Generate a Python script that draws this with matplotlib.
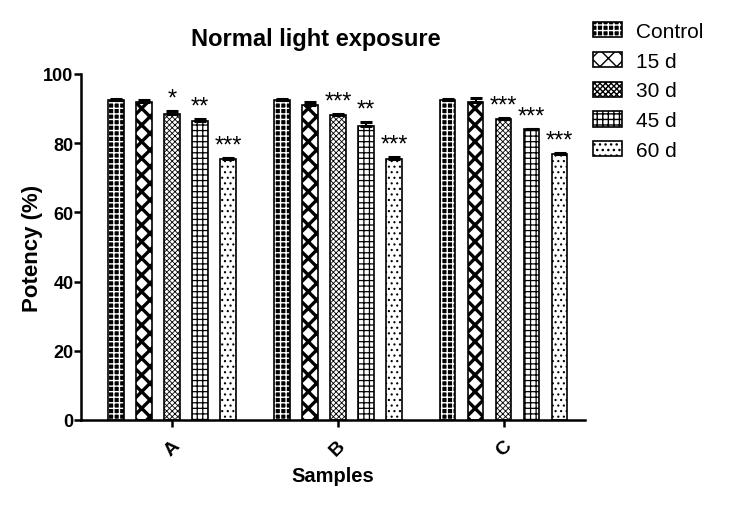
import numpy as np
import matplotlib.pyplot as plt
from matplotlib.patches import Patch
from matplotlib.legend_handler import HandlerTuple

plt.rcParams['font.family'] = ['Liberation Sans', 'DejaVu Sans']

# datos
samples = ["A", "B", "C"]
groups = ["Control", "15 d", "30 d", "45 d", "60 d"]
potency = {
    "Control": [92.5, 92.5, 92.5],
    "15 d": [91.8, 91.0, 92.0],
    "30 d": [88.5, 88.2, 87.0],
    "45 d": [86.3, 85.0, 84.0],
    "60 d": [75.5, 75.5, 76.8],
}
sem = {
    "Control": [0.3, 0.3, 0.3],
    "15 d": [0.6, 0.9, 1.1],
    "30 d": [0.8, 0.3, 0.2],
    "45 d": [0.8, 1.2, 0.2],
    "60 d": [0.3, 0.5, 0.3],
}
stars = {
    "Control": ["", "", ""],
    "15 d": ["", "", ""],
    "30 d": ["*", "***", "***"],
    "45 d": ["**", "**", "***"],
    "60 d": ["***", "***", "***"],
}

# estilos de relleno
hatches = {"Control": "+++", "15 d": "xx", "30 d": "xxxxxx", "45 d": "+++", "60 d": "..."}
hatch_lw = {"Control": 1.0, "15 d": 2.4, "30 d": 0.6, "45 d": 0.9, "60 d": 0.8}

fig = plt.figure(figsize=(7.3, 5.06), dpi=100)
ax = fig.add_axes([0.111, 0.168, 0.69, 0.684])

x = np.arange(len(samples))
step = 0.169
width = 0.096
handles = []

for i, g in enumerate(groups):
    pos = x + (i - 2) * step
    vals = np.array(potency[g])
    err = np.array(sem[g])
    with plt.rc_context({'hatch.linewidth': hatch_lw[g]}):
        if g == "Control":
            ax.bar(pos, vals, width, color="black", edgecolor="white",
                   hatch=hatches[g], linewidth=0, zorder=2)
            ax.bar(pos, vals, width, fill=False, edgecolor="black", linewidth=1.2, zorder=3)
            h1 = Patch(facecolor="black", edgecolor="white", hatch=hatches[g], linewidth=0)
            h2 = Patch(fill=False, edgecolor="black", linewidth=1.2)
            handles.append((h1, h2))
        else:
            ax.bar(pos, vals, width, color="white", edgecolor="black",
                   hatch=hatches[g], linewidth=1.2, zorder=2)
            handles.append(Patch(facecolor="white", edgecolor="black",
                                 hatch=hatches[g], linewidth=1.2))
    ax.errorbar(pos, vals, yerr=[np.zeros_like(err), err], fmt="none",
                ecolor="black", elinewidth=1.5, capsize=4.5, capthick=2.2, zorder=4)
    for p, v, e, s in zip(pos, vals, err, stars[g]):
        if s:
            ax.text(p, v + e + 0.4, s, ha="center", va="bottom", fontsize=17)

ax.set_xlim(-0.55, 2.49)
ax.set_ylim(0, 100)
ax.set_yticks([0, 20, 40, 60, 80, 100])
ax.set_xticks(x)
ax.set_xticklabels(samples, rotation=45, fontsize=14, fontweight="bold")
for lab in ax.get_yticklabels():
    lab.set_fontsize(13)
    lab.set_fontweight("bold")

for side in ["top", "right"]:
    ax.spines[side].set_visible(False)
for side in ["left", "bottom"]:
    ax.spines[side].set_linewidth(1.8)
ax.tick_params(width=1.8, length=5, direction="out", pad=0.5)
ax.tick_params(axis="x", pad=7)

ax.set_xlabel("Samples", fontsize=14.5, fontweight="bold", labelpad=5)
ax.set_ylabel("Potency (%)", fontsize=16, fontweight="bold")
ax.yaxis.set_label_coords(-0.076, 0.5)
fig.text(0.433, 0.922, "Normal light exposure", ha="center", va="center",
         fontsize=17, fontweight="bold")

fig.legend(handles, groups, loc="upper left", bbox_to_anchor=(0.813, 0.955),
           frameon=False, fontsize=15, handlelength=1.35, handleheight=0.75,
           labelspacing=0.52, handletextpad=0.7, borderpad=0, borderaxespad=0,
           handler_map={tuple: HandlerTuple(ndivide=1)})

fig.savefig("out.png", dpi=100)
